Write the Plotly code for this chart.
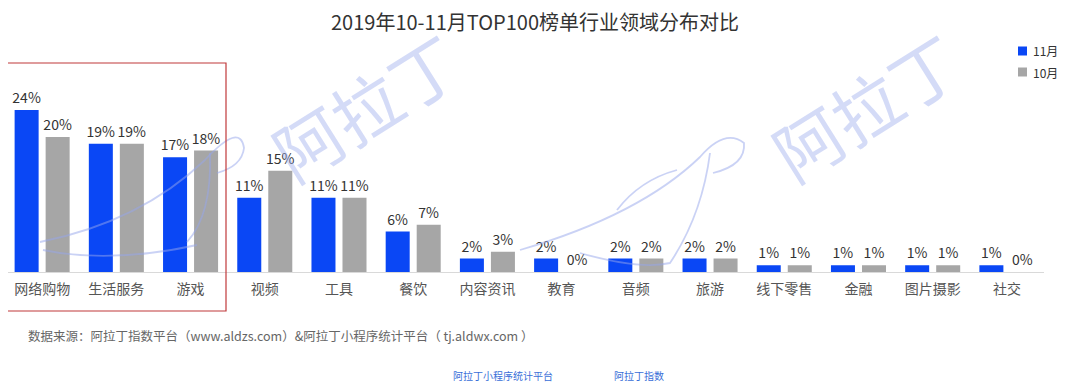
import plotly.graph_objects as go

categories = ["网络购物", "生活服务", "游戏", "视频", "工具", "餐饮", "内容资讯",
              "教育", "音频", "旅游", "线下零售", "金融", "图片摄影", "社交"]
nov_values = [24, 19, 17, 11, 11, 6, 2, 2, 2, 2, 1, 1, 1, 1]
oct_values = [20, 19, 18, 15, 11, 7, 3, 0, 2, 2, 1, 1, 1, 0]
series_names = ["11月", "10月"]

FONT = "Noto Sans CJK SC"
BLUE = "#0a47f5"
GRAY = "#a6a6a6"
WM = "rgba(160,175,238,0.45)"
WM_STROKE = "rgba(150,165,235,0.5)"

# page has an 8px body margin; figure is sized so it fits the 1080x390 window
W, H = 1072, 382
L, R, T, B = 0, 36, 62, 118
PW, PH = W - L - R, H - T - B


def px(xp):  # page x -> paper x
    return (xp - 8 - L) / PW


def py(yp):  # page y -> paper y
    return (H - B - (yp - 8)) / PH


fig = go.Figure()
for name, vals, col in [(series_names[0], nov_values, BLUE), (series_names[1], oct_values, GRAY)]:
    fig.add_trace(go.Bar(
        x=categories, y=vals, name=name, marker=dict(color=col, line=dict(width=0)),
        text=[f"{v}%" for v in vals], textposition="outside", cliponaxis=False,
        constraintext="none",
        textfont=dict(family=FONT, size=14, color="#333333"),
        showlegend=False,
    ))

# watermarks (faint text + lamp strokes)
for wx, wy in [(365, 105), (865, 105)]:
    fig.add_annotation(xref="paper", yref="paper", x=px(wx), y=py(wy),
                       xanchor="center", yanchor="middle",
                       text="阿拉丁", showarrow=False, textangle=-32,
                       font=dict(family=FONT, size=68, color=WM))


def path(cmds):
    out = []
    for cmd, pts in cmds:
        out.append(cmd + " " + " ".join(f"{px(a):.5f},{py(b):.5f}" for a, b in pts))
    return " ".join(out)


lamp_strokes = [
    [("M", [(40, 242)]), ("Q", [(140, 222), (205, 160)]), ("Q", [(240, 122), (244, 148)]),
     ("Q", [(242, 166), (217, 173)])],
    [("M", [(43, 250)]), ("Q", [(110, 264), (197, 245)])],
    [("M", [(210, 153)]), ("Q", [(212, 215), (187, 242)])],
    [("M", [(520, 250)]), ("Q", [(640, 215), (700, 157)]), ("Q", [(725, 128), (744, 143)]),
     ("Q", [(746, 165), (713, 173)])],
    [("M", [(580, 253)]), ("Q", [(640, 270), (670, 263)]), ("Q", [(702, 215), (710, 153)])],
    [("M", [(617, 210)]), ("Q", [(640, 180), (677, 170)])],
]
for s in lamp_strokes:
    fig.add_shape(type="path", xref="paper", yref="paper", path=path(s),
                  line=dict(color=WM_STROKE, width=1.8), layer="above")

# red highlight box
fig.add_shape(type="rect", xref="paper", yref="paper",
              x0=px(3), x1=px(226), y0=py(311), y1=py(63),
              line=dict(color="#c0393b", width=1.2), fillcolor="rgba(0,0,0,0)")

# manual legend
for i, (name, col) in enumerate([(series_names[0], BLUE), (series_names[1], GRAY)]):
    yc = 51 + 21 * i
    fig.add_shape(type="rect", xref="paper", yref="paper",
                  x0=px(1018), x1=px(1027), y0=py(yc + 4.5), y1=py(yc - 4.5),
                  line=dict(width=0), fillcolor=col)
    fig.add_annotation(xref="paper", yref="paper", x=px(1031), y=py(yc),
                       xanchor="left", yanchor="middle", showarrow=False, text=name,
                       font=dict(family=FONT, size=12, color="#333333"))

# source note
fig.add_annotation(xref="paper", yref="paper", x=px(26), y=py(335),
                   xanchor="left", yanchor="middle", showarrow=False,
                   text="数据来源：阿拉丁指数平台（www.aldzs.com）&阿拉丁小程序统计平台（ tj.aldwx.com ）",
                   font=dict(family=FONT, size=12.5, color="#666666"))
fig.add_annotation(xref="paper", yref="paper", x=px(451), y=py(375),
                   xanchor="left", yanchor="middle", showarrow=False,
                   text="阿拉丁小程序统计平台", font=dict(family=FONT, size=10, color="#3a6fd8"))
fig.add_annotation(xref="paper", yref="paper", x=px(612), y=py(375),
                   xanchor="left", yanchor="middle", showarrow=False,
                   text="阿拉丁指数", font=dict(family=FONT, size=10, color="#3a6fd8"))

fig.update_layout(
    width=W, height=H,
    margin=dict(l=L, r=R, t=T, b=B, autoexpand=False),
    paper_bgcolor="white", plot_bgcolor="rgba(0,0,0,0)",
    barmode="group", bargap=0.164, bargroupgap=0.226,
    title=dict(text="2019年10-11月TOP100榜单行业领域分布对比", x=527 / W, xanchor="center",
               y=1 - 15 / H, yanchor="middle",
               font=dict(family=FONT, size=20, color="#333333")),
    xaxis=dict(range=[-0.46, 13.5], showline=True, linecolor="#d9d9d9", linewidth=1,
               ticks="outside", ticklen=4, tickcolor="rgba(0,0,0,0)",
               tickfont=dict(family=FONT, size=14, color="#555555"), showgrid=False),
    yaxis=dict(range=[0, PH / 6.75], visible=False, showgrid=False, zeroline=False),
    showlegend=False,
)

fig.write_html("out.html")
